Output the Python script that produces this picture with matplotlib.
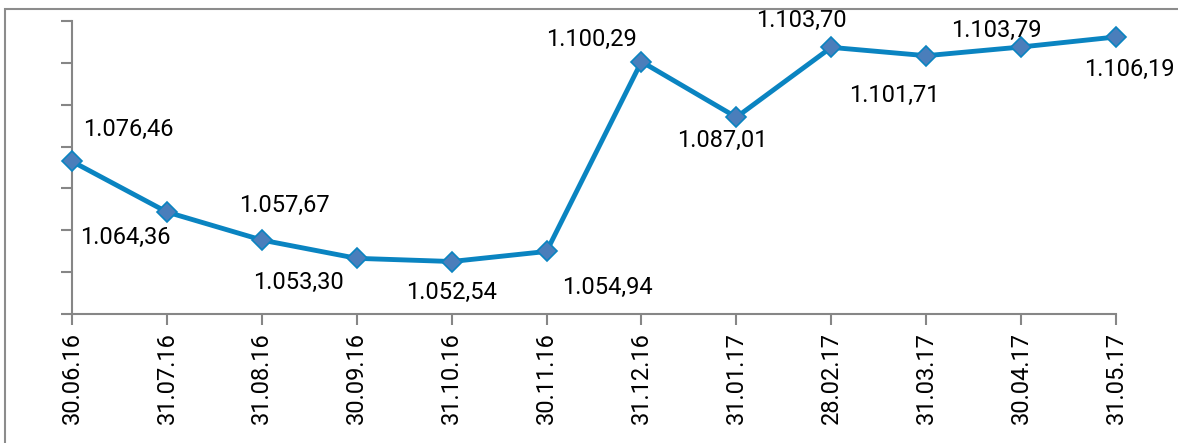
import matplotlib.pyplot as plt
from matplotlib.patches import Rectangle

dates = ["30.06.16", "31.07.16", "31.08.16", "30.09.16", "31.10.16", "30.11.16",
         "31.12.16", "31.01.17", "28.02.17", "31.03.17", "30.04.17", "31.05.17"]
values = [1076.46, 1064.36, 1057.67, 1053.30, 1052.54, 1054.94,
          1100.29, 1087.01, 1103.70, 1101.71, 1103.79, 1106.19]
labels = ["1.076,46", "1.064,36", "1.057,67", "1.053,30", "1.052,54", "1.054,94",
          "1.100,29", "1.087,01", "1.103,70", "1.101,71", "1.103,79", "1.106,19"]
# label offsets from the point, in pixels
offsets = [(56, 32), (-42, -25), (23, 35), (-58, -24), (0, -31), (61, -36),
           (-50, 22), (-14, -23), (-30, 27), (-32, -40), (-25, 17), (13, -33)]

plt.rcParams['font.family'] = ['Roboto', 'DejaVu Sans']

fig = plt.figure(figsize=(11.78, 4.43), dpi=100)
fig.patches.append(Rectangle((5 / 1178, -0.1), 1.2, 1 - 9 / 443 + 0.1,
                             transform=fig.transFigure, fill=False,
                             edgecolor="#8c8c8c", linewidth=1.5))
ax = fig.add_axes([72 / 1178, 1 - 314 / 443, (1116 - 72) / 1178, (314 - 21) / 443])

x = list(range(len(values)))
ax.plot(x, values, color="#0a84c1", linewidth=3.5, marker="D", markersize=10,
        markerfacecolor="#4a7ebb", markeredgecolor="#0a84c1", markeredgewidth=1.2,
        zorder=3, clip_on=False)

for xi, v, lab, (dx, dy) in zip(x, values, labels, offsets):
    ax.annotate(lab, (xi, v), xytext=(dx, dy), textcoords="offset pixels",
                ha="center", va="center", fontsize=17, color="black")

ax.set_xlim(0, 11)
ax.set_ylim(1040, 1110)
ax.set_yticks(range(1040, 1111, 10))
ax.set_yticklabels([])
ax.set_xticks(x)
ax.set_xticklabels(dates, rotation=90, fontsize=17)

for side in ["top", "right"]:
    ax.spines[side].set_visible(False)
for side in ["left", "bottom"]:
    ax.spines[side].set_color("#868686")
    ax.spines[side].set_linewidth(1.5)
ax.tick_params(axis="both", color="#868686", width=1.5, length=8)
ax.tick_params(axis="x", pad=5)

fig.savefig("out.png", dpi=100)
